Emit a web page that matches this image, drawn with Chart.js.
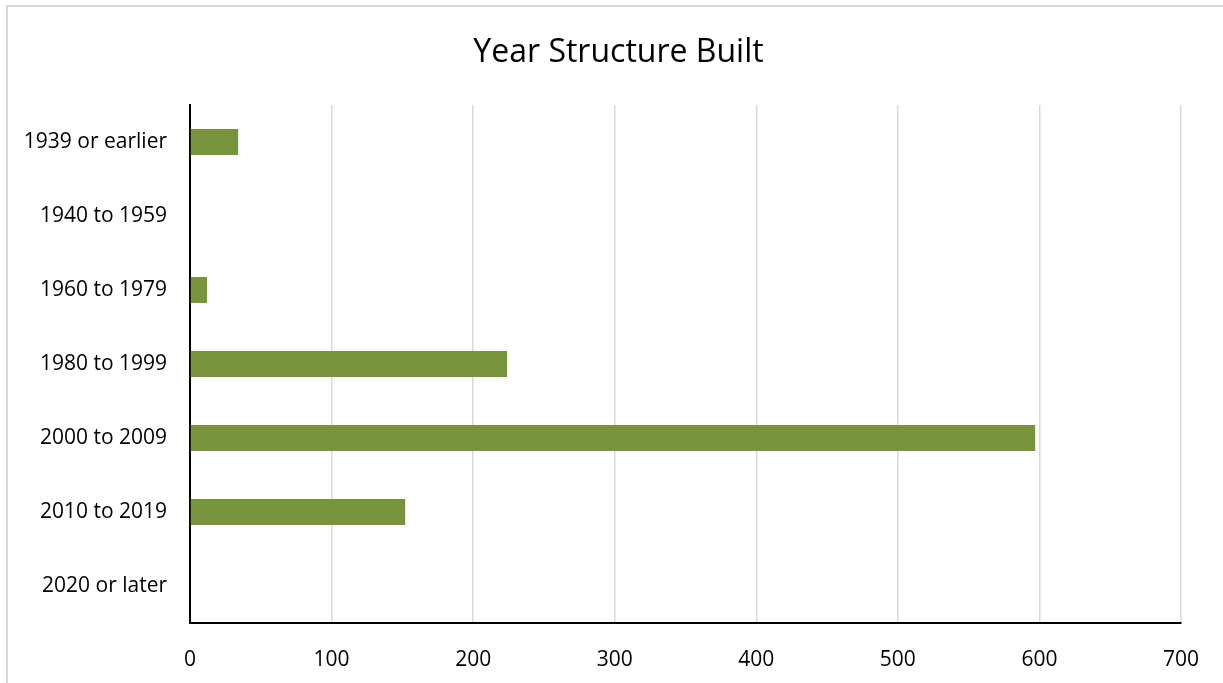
<!DOCTYPE html>
<html lang="en">
<head>
    <meta charset="UTF-8">
    <title>Year Structure Built</title>
    <script src="https://cdn.jsdelivr.net/npm/chart.js"></script>
    <style>
        html, body {
            margin: 0;
            padding: 0;
            background: #fff;
            overflow: hidden;
        }
        .frame {
            position: absolute;
            left: 6px;
            top: 5px;
            width: 1300px;
            height: 800px;
            border: 2px solid #d9d9d9;
            box-sizing: border-box;
        }
        .chart-box {
            position: absolute;
            left: 0;
            top: 0;
            width: 1223px;
            height: 683px;
        }
    </style>
</head>
<body>
    <div class="frame"></div>
    <div class="chart-box">
        <canvas id="yearBuilt"></canvas>
    </div>

    <script>
        const categories = ['1939 or earlier', '1940 to 1959', '1960 to 1979', '1980 to 1999', '2000 to 2009', '2010 to 2019', '2020 or later'];
        const units = [34, 0, 12, 224, 597, 152, 0];
        const xTicks = [0, 100, 200, 300, 400, 500, 600, 700];

        const barColor = '#77933c';
        const fontFamily = '"Open Sans", "Noto Sans", sans-serif';

        // centre the title over the whole frame, not just the padded area
        const centreTitle = {
            id: 'centreTitle',
            afterLayout(chart) {
                if (chart.titleBlock) {
                    chart.titleBlock.left = 0;
                    chart.titleBlock.right = 1237;
                }
            }
        };

        new Chart(document.getElementById('yearBuilt').getContext('2d'), {
            type: 'bar',
            data: {
                labels: categories,
                datasets: [{
                    label: 'Year Structure Built',
                    data: units,
                    backgroundColor: barColor,
                    borderWidth: 0,
                    categoryPercentage: 1,
                    barPercentage: 0.35
                }]
            },
            options: {
                indexAxis: 'y',
                responsive: true,
                maintainAspectRatio: false,
                animation: false,
                layout: { padding: { left: 0, right: 40, top: 0, bottom: 0 } },
                plugins: {
                    legend: { display: false },
                    tooltip: { enabled: false },
                    title: {
                        display: true,
                        text: 'Year Structure Built',
                        color: '#000',
                        font: { family: fontFamily, size: 32, weight: 'normal' },
                        padding: { top: 34, bottom: 32.6 }
                    }
                },
                scales: {
                    x: {
                        min: 0,
                        max: 700,
                        afterBuildTicks: (scale) => {
                            scale.ticks = xTicks.map(v => ({ value: v }));
                        },
                        afterFit: (scale) => { scale.height = 60; },
                        grid: {
                            color: '#d9d9d9',
                            lineWidth: 1.5,
                            drawTicks: false
                        },
                        border: { display: true, color: '#000', width: 2 },
                        ticks: {
                            color: '#000',
                            padding: 24,
                            font: { family: fontFamily, size: 21 }
                        }
                    },
                    y: {
                        afterFit: (scale) => { scale.width = 190; },
                        grid: { display: false, drawTicks: false },
                        border: { display: true, color: '#000', width: 2 },
                        ticks: {
                            color: '#000',
                            padding: 23,
                            font: { family: fontFamily, size: 21 }
                        }
                    }
                }
            },
            plugins: [centreTitle]
        });
    </script>
</body>
</html>
